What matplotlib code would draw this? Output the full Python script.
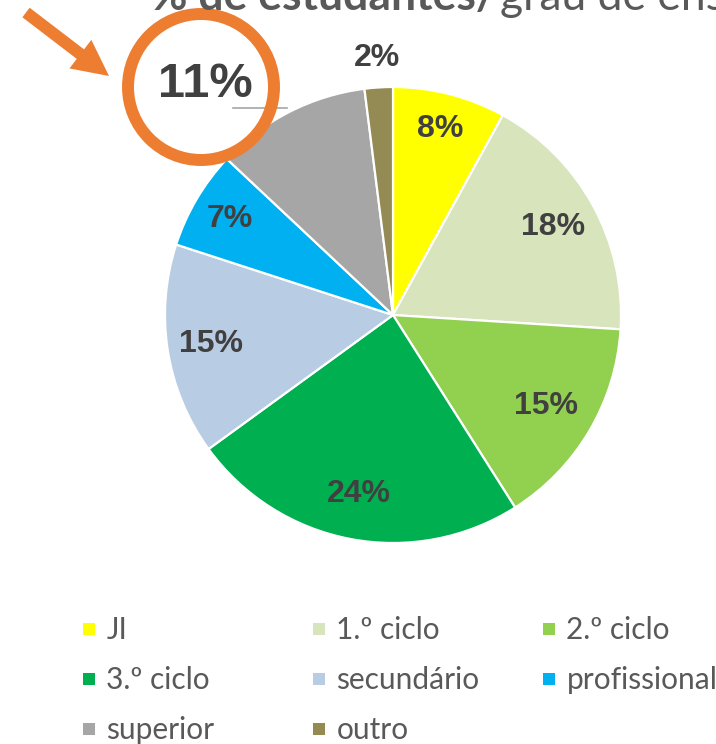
import numpy as np
import matplotlib
matplotlib.use('Agg')
import matplotlib.pyplot as plt
from matplotlib.lines import Line2D
from matplotlib.patches import Circle, FancyArrow

# data
categories = ['JI', '1.º ciclo', '2.º ciclo', '3.º ciclo', 'secundário',
              'profissional', 'superior', 'outro']
shares = [8, 18, 15, 24, 15, 7, 11, 2]
colors = ['#FFFF00', '#D8E4BC', '#92D050', '#00B050', '#B8CCE4',
          '#00B0F0', '#A6A6A6', '#948A54']
# radial position of each % label (None = highlighted label with leader)
label_dist = [0.84, 0.80, 0.78, 0.80, 0.81, 0.83, None, 1.13]

W, H = 716, 744
fig = plt.figure(figsize=(W / 100, H / 100), dpi=100)

# pie placed in pixel terms: centre (393, 315), radius 228
cx, cy, r = 393, 315, 228
ax = fig.add_axes([(cx - r) / W, (H - cy - r) / H, 2 * r / W, 2 * r / H])
wedges, _ = ax.pie(shares, colors=colors, startangle=90, counterclock=False,
                   wedgeprops=dict(edgecolor='white', linewidth=1.6))
ax.set_xlim(-1, 1)
ax.set_ylim(-1, 1)

lab = dict(family='Liberation Sans', weight='bold', color='#404040',
           ha='center', va='center')
for w, v, d in zip(wedges, shares, label_dist):
    mid = np.deg2rad((w.theta1 + w.theta2) / 2)
    if d is None:
        x0, y0 = 1.02 * np.cos(mid), 1.02 * np.sin(mid)
        ax.plot([x0, x0 - 0.24], [y0, y0], color='#A6A6A6', lw=1.2,
                clip_on=False)
        ax.text(x0 - 0.36, y0 + 0.10, f'{v}%', size=35, **lab)
    else:
        ax.text(d * np.cos(mid), d * np.sin(mid), f'{v}%', size=23, **lab)

# orange highlight (pixel overlay)
ov = fig.add_axes([0, 0, 1, 1], zorder=3)
ov.set_xlim(0, W)
ov.set_ylim(H, 0)
ov.axis('off')
orange = '#ED7D31'
ov.add_patch(Circle((201, 87), 73, fill=False, ec=orange, lw=8.6))
ov.add_patch(FancyArrow(26, 12.5, 83, 63.5, width=12, head_width=36,
                        head_length=36, length_includes_head=True,
                        color=orange, lw=0))

# title, cut at the top edge as in the original
fig.text(497 / W, 1 - 10 / H, '% de estudantes/', family='Lato', weight='bold',
         size=32, color='#595959', ha='right', va='baseline')
fig.text(500 / W, 1 - 10 / H, 'grau de ensino', family='Lato',
         size=32, color='#595959', ha='left', va='baseline')

# legend: three columns, row-major order
handles = [Line2D([], [], ls='none', marker='s', markersize=9,
                  color=c, markeredgewidth=0) for c in colors]
col_x = [82, 312, 542]
for i, x in enumerate(col_x):
    idx = list(range(i, len(categories), 3))
    fig.legend([handles[j] for j in idx], [categories[j] for j in idx],
               loc='upper left', bbox_to_anchor=(x / W, 1 - 616 / H),
               frameon=False, borderpad=0, borderaxespad=0,
               handlelength=0.48, handletextpad=0.34, labelspacing=0.74,
               prop=dict(family='Lato', size=21.5), labelcolor='#595959')

fig.savefig('out.png', dpi=100)
